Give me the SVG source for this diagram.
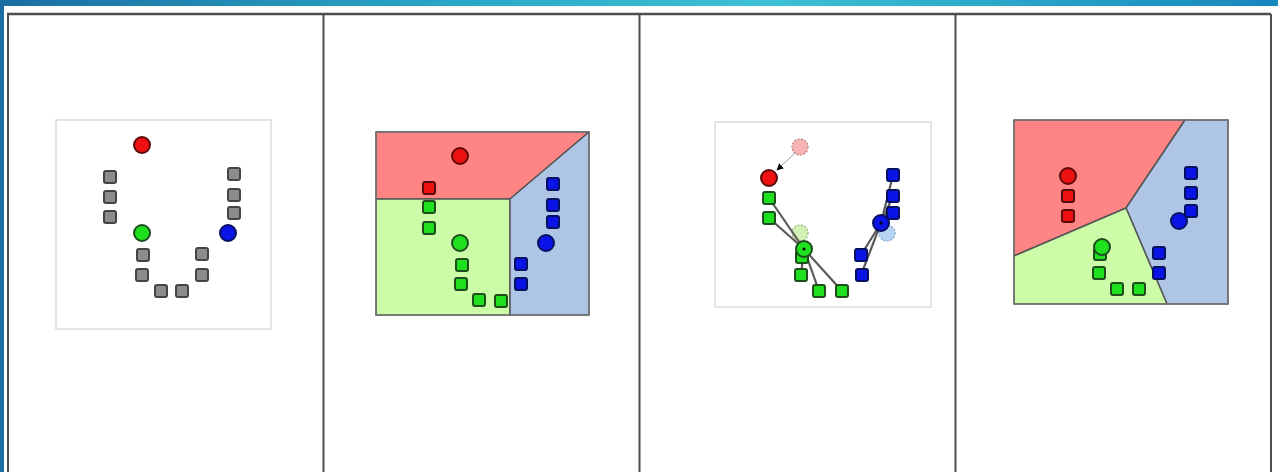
<svg xmlns="http://www.w3.org/2000/svg" width="1278" height="472" viewBox="0 0 1278 472">
<defs>
<linearGradient id="band" x1="0" y1="0" x2="1" y2="0">
<stop offset="0" stop-color="#1b6fa0"/>
<stop offset="0.35" stop-color="#2aa6c8"/>
<stop offset="0.6" stop-color="#3cc2d4"/>
<stop offset="1" stop-color="#1787bd"/>
</linearGradient>
<marker id="arr" viewBox="0 0 10 10" refX="9" refY="5" markerWidth="7" markerHeight="7" orient="auto">
<path d="M0,0 L10,5 L0,10 z" fill="#000"/>
</marker>
<style>
.box{fill:#fff;stroke:#dcdcdc;stroke-width:1.5}
.reg{stroke:#555;stroke-width:1.5;stroke-linejoin:round}
.sq{stroke-width:2}
.gray{fill:#8c8c8c;stroke:#444}
.gr{fill:#1fe01f;stroke:#1d4d1d}
.bl{fill:#0a14e6;stroke:#061060}
.rd{fill:#ee1111;stroke:#5a0a0a}
.ghost{stroke-width:1.2;stroke-dasharray:2 1.5}
.link{stroke:#5a5a5a;stroke-width:2.2;fill:none}
.divl{stroke:#4d4d4d;stroke-width:2}
</style>
</defs>
<rect x="0" y="0" width="1278" height="472" fill="url(#band)"/>
<rect x="4" y="6" width="1274" height="466" fill="#fff"/>
<g id="frame">
<line x1="7" y1="14" x2="1271" y2="14" stroke="#4d4d4d" stroke-width="2.5"/>
<line x1="8" y1="14" x2="8" y2="472" class="divl"/>
<line x1="1271" y1="14" x2="1271" y2="472" class="divl"/>
<line x1="323.5" y1="14" x2="323.5" y2="472" class="divl"/>
<line x1="639.5" y1="14" x2="639.5" y2="472" class="divl"/>
<line x1="955.5" y1="14" x2="955.5" y2="472" class="divl"/>
</g>
<g id="panel1">
<rect class="box" x="56" y="120" width="215" height="209"/>
<g class="sq gray">
<rect x="104" y="171" width="12" height="12" rx="2"/>
<rect x="104" y="191" width="12" height="12" rx="2"/>
<rect x="104" y="211" width="12" height="12" rx="2"/>
<rect x="137" y="249" width="12" height="12" rx="2"/>
<rect x="136" y="269" width="12" height="12" rx="2"/>
<rect x="155" y="285" width="12" height="12" rx="2"/>
<rect x="176" y="285" width="12" height="12" rx="2"/>
<rect x="196" y="248" width="12" height="12" rx="2"/>
<rect x="196" y="269" width="12" height="12" rx="2"/>
<rect x="228" y="168" width="12" height="12" rx="2"/>
<rect x="228" y="189" width="12" height="12" rx="2"/>
<rect x="228" y="207" width="12" height="12" rx="2"/>
</g>
<circle class="sq rd" cx="142" cy="145" r="8"/>
<circle class="sq gr" cx="142" cy="233" r="8"/>
<circle class="sq bl" cx="228" cy="233" r="8"/>
</g>
<g id="panel2">
<polygon class="reg" points="376,132 589,132 510,199 376,199" fill="#ff8585"/>
<polygon class="reg" points="376,199 510,199 510,315 376,315" fill="#ccfca8"/>
<polygon class="reg" points="510,199 589,132 589,315 510,315" fill="#afc5e6"/>
<rect x="376" y="132" width="213" height="183" fill="none" stroke="#777" stroke-width="1.2"/>
<g class="sq">
<rect class="rd" x="423" y="182" width="12" height="12" rx="2"/>
<rect class="gr" x="423" y="201" width="12" height="12" rx="2"/>
<rect class="gr" x="423" y="222" width="12" height="12" rx="2"/>
<rect class="gr" x="456" y="259" width="12" height="12" rx="2"/>
<rect class="gr" x="455" y="278" width="12" height="12" rx="2"/>
<rect class="gr" x="473" y="294" width="12" height="12" rx="2"/>
<rect class="gr" x="495" y="295" width="12" height="12" rx="2"/>
<rect class="bl" x="547" y="178" width="12" height="12" rx="2"/>
<rect class="bl" x="547" y="199" width="12" height="12" rx="2"/>
<rect class="bl" x="547" y="216" width="12" height="12" rx="2"/>
<rect class="bl" x="515" y="258" width="12" height="12" rx="2"/>
<rect class="bl" x="515" y="278" width="12" height="12" rx="2"/>
<circle class="rd" cx="460" cy="156" r="8"/>
<circle class="gr" cx="460" cy="243" r="8"/>
<circle class="bl" cx="546" cy="243" r="8"/>
</g>
</g>
<g id="panel3">
<rect class="box" x="715" y="122" width="216" height="185"/>
<circle class="ghost" cx="800" cy="147" r="8" fill="#f6b3b3" stroke="#c07878"/>
<circle class="ghost" cx="800" cy="233" r="8" fill="#d3f1b6" stroke="#8fb27a"/>
<circle class="ghost" cx="887" cy="233" r="8" fill="#b7d3f3" stroke="#7a9fc8"/>
</g>
<g id="connectors">
<line x1="795" y1="153" x2="777" y2="170" stroke="#999" stroke-width="1" marker-end="url(#arr)"/>
<line class="link" x1="804" y1="249" x2="769" y2="198"/>
<line class="link" x1="804" y1="249" x2="769" y2="218"/>
<line class="link" x1="804" y1="249" x2="801" y2="275"/>
<line class="link" x1="804" y1="249" x2="819" y2="291"/>
<line class="link" x1="804" y1="249" x2="842" y2="291"/>
<line class="link" x1="881" y1="223" x2="893" y2="175"/>
<line class="link" x1="881" y1="223" x2="893" y2="196"/>
<line class="link" x1="881" y1="223" x2="893" y2="213"/>
<line class="link" x1="881" y1="223" x2="861" y2="255"/>
<line class="link" x1="881" y1="223" x2="861" y2="275"/>
</g>
<g id="panel3-points" class="sq">
<rect class="gr" x="763" y="192" width="12" height="12" rx="2"/>
<rect class="gr" x="763" y="212" width="12" height="12" rx="2"/>
<rect class="gr" x="796" y="251" width="12" height="12" rx="2"/>
<rect class="gr" x="795" y="269" width="12" height="12" rx="2"/>
<rect class="gr" x="813" y="285" width="12" height="12" rx="2"/>
<rect class="gr" x="836" y="285" width="12" height="12" rx="2"/>
<rect class="bl" x="887" y="169" width="12" height="12" rx="2"/>
<rect class="bl" x="887" y="190" width="12" height="12" rx="2"/>
<rect class="bl" x="887" y="207" width="12" height="12" rx="2"/>
<rect class="bl" x="855" y="249" width="12" height="12" rx="2"/>
<rect class="bl" x="856" y="269" width="12" height="12" rx="2"/>
<circle class="rd" cx="769" cy="178" r="8"/>
<circle class="gr" cx="804" cy="249" r="8"/>
<circle cx="804" cy="249" r="1.5" fill="#000"/>
<circle class="bl" cx="881" cy="223" r="8"/>
<circle cx="881" cy="223" r="1.5" fill="#000"/>
</g>
<g id="panel4">
<polygon class="reg" points="1014,120 1185,120 1126,208 1014,256" fill="#ff8585"/>
<polygon class="reg" points="1185,120 1228,120 1228,304 1167,304 1126,208" fill="#afc5e6"/>
<polygon class="reg" points="1014,256 1126,208 1167,304 1014,304" fill="#ccfca8"/>
<rect x="1014" y="120" width="214" height="184" fill="none" stroke="#777" stroke-width="1.2"/>
<g class="sq">
<rect class="rd" x="1062" y="190" width="12" height="12" rx="2"/>
<rect class="rd" x="1062" y="210" width="12" height="12" rx="2"/>
<rect class="gr" x="1094" y="248" width="12" height="12" rx="2"/>
<rect class="gr" x="1093" y="267" width="12" height="12" rx="2"/>
<rect class="gr" x="1111" y="283" width="12" height="12" rx="2"/>
<rect class="gr" x="1133" y="283" width="12" height="12" rx="2"/>
<rect class="bl" x="1185" y="167" width="12" height="12" rx="2"/>
<rect class="bl" x="1185" y="187" width="12" height="12" rx="2"/>
<rect class="bl" x="1185" y="205" width="12" height="12" rx="2"/>
<rect class="bl" x="1153" y="247" width="12" height="12" rx="2"/>
<rect class="bl" x="1153" y="267" width="12" height="12" rx="2"/>
<circle class="rd" cx="1068" cy="176" r="8"/>
<circle class="gr" cx="1102" cy="247" r="8"/>
<circle class="bl" cx="1179" cy="221" r="8"/>
</g>
</g>
</svg>
